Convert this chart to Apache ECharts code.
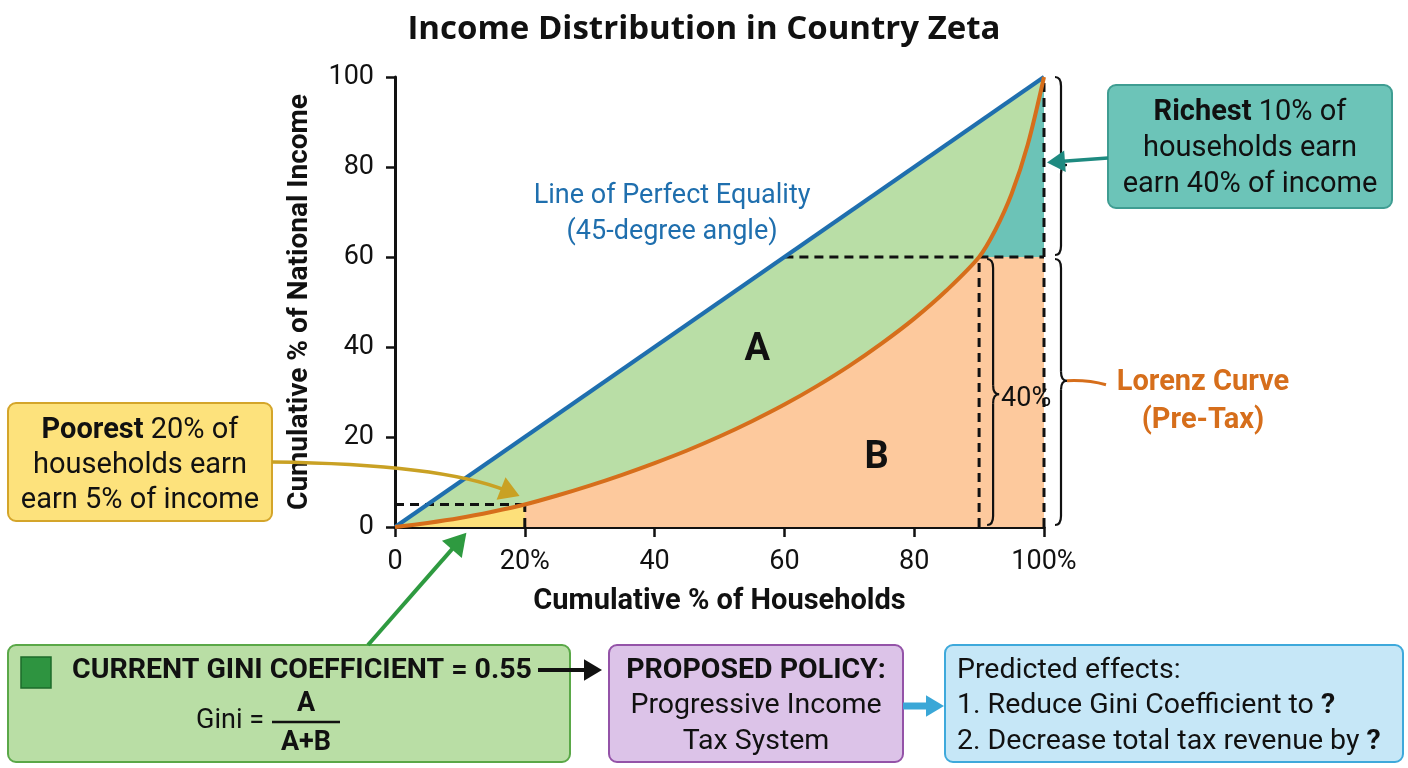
<!DOCTYPE html>
<html>
<head>
<meta charset="utf-8">
<title>Income Distribution in Country Zeta</title>
<script src="https://cdn.jsdelivr.net/npm/echarts@6/dist/echarts.min.js"></script>
<style>
  html, body { margin: 0; padding: 0; background: #fff; }
  #chart { width: 1408px; height: 768px; }
</style>
</head>
<body>
<div id="chart"></div>
<script>
// Lorenz curve: cumulative % of households -> cumulative % of income
const households = [0, 5, 10, 15, 20, 25, 30, 35, 40, 45, 50, 55, 60, 65, 70, 75, 80, 85, 90, 92.5, 95, 97.5, 100];
const lorenzIncome = [0, 0.9, 2, 3.4, 5, 7, 9.2, 11.6, 14.2, 17, 20.1, 23.5, 27.2, 31.3, 35.8, 40.8, 46.3, 52.6, 60, 66, 74, 85, 100];
const equalityHouseholds = [0, 100];
const equalityIncome = [0, 100];
const xTicks = [0, 20, 40, 60, 80, 100];
const xTickLabels = ['0', '20%', '40', '60', '80', '100%'];
const yTicks = [0, 5, 20, 40, 60, 80, 100];
const yTickLabels = ['0', '5%', '20', '40', '60', '80', '100'];
const poorest = [20, 5];       // poorest 20% earn 5%
const richestCut = [90, 60];   // richest 10% start at 90%, earn the last 40%
const giniValue = 0.55;

const colors = {
    equality: '#1f6fae',
    lorenz: '#d66e1b',
    areaA: '#b9dea6',
    areaB: '#fdc99d',
    richest: '#6cc3b7',
    poorest: '#fde07a',
    dash: '#111111'
};
const FONT = 'Roboto';
const SMOOTH = 0.3;

const chartDom = document.getElementById('chart');
const chart = echarts.init(chartDom);

const pts = (xs, ys) => xs.map((x, i) => [x, ys[i]]);
const lorenz = pts(households, lorenzIncome);
const lorenzLow = lorenz.filter(p => p[0] <= poorest[0]);
const lorenzTop = lorenz.filter(p => p[0] >= richestCut[0]);

function areaSeries(name, data, color, origin) {
    return {
        name, type: 'line', data, smooth: SMOOTH, symbol: 'none', silent: true,
        lineStyle: { width: 0 },
        areaStyle: { color, opacity: 1, origin: origin === undefined ? 'auto' : origin }
    };
}
function dashedSeries(data) {
    return {
        type: 'line', data, symbol: 'none', silent: true,
        lineStyle: { color: colors.dash, width: 3, type: [9, 6] }
    };
}

const axisText = { color: '#111', fontSize: 27, fontFamily: FONT };

chart.setOption({
    animation: false,
    backgroundColor: '#fff',
    title: {
        text: 'Income Distribution in Country Zeta',
        left: 'center',
        top: 8,
        textStyle: { fontFamily: 'Open Sans', fontWeight: 'bold', fontSize: 33, color: '#111' }
    },
    grid: { left: 395, right: 364, top: 77, bottom: 241, containLabel: false },
    xAxis: {
        type: 'value', min: 0, max: 100,
        name: 'Cumulative % of Households',
        nameLocation: 'middle', nameGap: 60,
        nameTextStyle: { color: '#111', fontSize: 29, fontWeight: 'bold', fontFamily: FONT },
        axisLine: { show: true, lineStyle: { color: '#111', width: 3 } },
        axisTick: { show: true, customValues: xTicks, length: 10, lineStyle: { color: '#111', width: 2.5 } },
        axisLabel: Object.assign({
            customValues: xTicks, margin: 22, showMinLabel: true, showMaxLabel: true,
            formatter: v => xTickLabels[xTicks.indexOf(v)]
        }, axisText),
        splitLine: { show: false }
    },
    yAxis: {
        type: 'value', min: 0, max: 100,
        name: 'Cumulative % of National Income',
        nameLocation: 'middle', nameGap: 81, nameRotate: 90,
        nameTextStyle: { color: '#111', fontSize: 28, fontWeight: 'bold', fontFamily: FONT },
        axisLine: { show: true, lineStyle: { color: '#111', width: 3 } },
        axisTick: { show: true, customValues: yTicks, length: 9, lineStyle: { color: '#111', width: 2.5 } },
        axisLabel: Object.assign({
            customValues: yTicks, margin: 21, showMinLabel: true, showMaxLabel: true,
            formatter: v => yTickLabels[yTicks.indexOf(v)]
        }, axisText),
        splitLine: { show: false }
    },
    series: [
        areaSeries('A', pts(equalityHouseholds, equalityIncome), colors.areaA),
        areaSeries('B', lorenz, colors.areaB),
        areaSeries('Richest 10%', lorenzTop, colors.richest, richestCut[1]),
        areaSeries('Poorest 20%', lorenzLow, colors.poorest),
        dashedSeries([[0, poorest[1]], poorest]),
        dashedSeries([[poorest[0], 0], poorest]),
        dashedSeries([[richestCut[1], richestCut[1]], [100, richestCut[1]]]),
        dashedSeries([[richestCut[0], 0], richestCut]),
        dashedSeries([[100, 0], [100, 100]]),
        {
            name: 'Line of Perfect Equality', type: 'line', symbol: 'none', silent: true,
            data: pts(equalityHouseholds, equalityIncome),
            lineStyle: { color: colors.equality, width: 4 }
        },
        {
            name: 'Lorenz Curve', type: 'line', symbol: 'none', silent: true,
            smooth: SMOOTH,
            data: lorenz,
            lineStyle: { color: colors.lorenz, width: 4 }
        }
    ]
});

// ---- annotations (boxes, braces, arrows) ----
const px = (x, y) => chart.convertToPixel({ gridIndex: 0 }, [x, y]);

function arrowHead(tip, from, size, color) {
    const a = Math.atan2(tip[1] - from[1], tip[0] - from[0]);
    const w = size * 0.6;
    const bx = tip[0] - size * Math.cos(a), by = tip[1] - size * Math.sin(a);
    return {
        type: 'polygon', z: 100,
        shape: { points: [tip, [bx + w * Math.sin(a), by - w * Math.cos(a)], [bx - w * Math.sin(a), by + w * Math.cos(a)]] },
        style: { fill: color }
    };
}
function arrow(p0, cp, p1, color, width, size) {
    cp = cp || [(p0[0] + p1[0]) / 2, (p0[1] + p1[1]) / 2];
    const a = Math.atan2(p1[1] - cp[1], p1[0] - cp[0]);
    const end = [p1[0] - size * 0.7 * Math.cos(a), p1[1] - size * 0.7 * Math.sin(a)];
    return [
        {
            type: 'bezierCurve', z: 100,
            shape: { x1: p0[0], y1: p0[1], cpx1: cp[0], cpy1: cp[1], x2: end[0], y2: end[1] },
            style: { stroke: color, lineWidth: width, fill: null }
        },
        arrowHead(p1, cp, size, color)
    ];
}
function curve(x1, y1, cx, cy, x2, y2, color, width) {
    return {
        type: 'bezierCurve', z: 100,
        shape: { x1, y1, cpx1: cx, cpy1: cy, x2, y2 },
        style: { stroke: color, lineWidth: width, fill: null }
    };
}
function seg(x1, y1, x2, y2, color, width) {
    return { type: 'line', z: 100, shape: { x1, y1, x2, y2 }, style: { stroke: color, lineWidth: width } };
}
// a "}" brace: ends curl to the left, tip points right
function brace(x, yTop, yBot, tipY, w) {
    const r = 9, c = '#111', lw = 2.2;
    return [
        curve(x, yTop, x + w, yTop, x + w, yTop + r, c, lw),
        seg(x + w, yTop + r, x + w, tipY - r, c, lw),
        curve(x + w, tipY - r, x + w, tipY, x + 2 * w, tipY, c, lw),
        curve(x + 2 * w, tipY, x + w, tipY, x + w, tipY + r, c, lw),
        seg(x + w, tipY + r, x + w, yBot - r, c, lw),
        curve(x + w, yBot - r, x + w, yBot, x, yBot, c, lw)
    ];
}
function box(x, y, w, h, fill, stroke) {
    return { type: 'rect', z: 90, shape: { x, y, width: w, height: h, r: 8 }, style: { fill, stroke, lineWidth: 2 } };
}
function text(x, y, str, opt) {
    opt = opt || {};
    const size = opt.size || 25;
    const lh = opt.lineHeight || size * 1.4;
    const color = opt.color || '#111';
    const base = { fontSize: size, fontFamily: FONT, fill: color, lineHeight: lh };
    return {
        type: 'text', z: 110, x, y,
        style: Object.assign({}, base, {
            text: str,
            fontWeight: opt.weight || 'normal',
            align: opt.align || 'center',
            verticalAlign: 'middle',
            rich: {
                n: Object.assign({}, base, { fontWeight: 'normal' }),
                b: Object.assign({}, base, { fontWeight: 'bold' })
            }
        })
    };
}

const p100 = px(100, 100), p60 = px(100, richestCut[1]), p0 = px(100, 0);
const p90 = px(richestCut[0], 0);
const eqLabel = px(42.7, 69.5);
const aPos = px(55.8, 39.3);
const bPos = px(74.2, 15.2);
const teal = px(100, 81);
const poorTip = px(19.2, 6.9);
const giniTip = px(11, -1.3);
const lorenzTipY = px(100, 32.5)[1];

const BOX_FONT = 28.5;

const graphics = [].concat(
    // labels in the plot
    text(eqLabel[0], eqLabel[1], 'Line of Perfect Equality\n(45-degree angle)', { size: 27, color: colors.equality, lineHeight: 36 }),
    text(aPos[0], aPos[1], 'A', { size: 38, weight: 'bold' }),
    text(bPos[0], bPos[1], 'B', { size: 38, weight: 'bold' }),
    // braces
    brace(p100[0] + 11, p100[1], p60[1] - 2, px(100, 80)[1] - 2, 6),
    brace(p60[0] + 11, p60[1] + 2, p0[1] - 2, lorenzTipY, 6),
    brace(p90[0] + 8, p60[1] + 2, p0[1] - 2, px(100, 29.5)[1], 6),
    text(p90[0] + 22, px(100, 28.5)[1], '40%', { size: 27, align: 'left' }),
    // Lorenz curve label
    curve(p60[0] + 23, lorenzTipY, 1088, lorenzTipY - 1, 1106, lorenzTipY + 4, colors.lorenz, 3),
    text(1203, 402, 'Lorenz Curve\n(Pre-Tax)', { size: 29, weight: 'bold', color: colors.lorenz, lineHeight: 38 }),
    // richest box
    box(1108, 85, 284, 123, '#6cc4b8', '#3f9d92'),
    text(1250, 149, '{b|Richest} 10% of\nhouseholds earn\nearn 40% of income', { size: 29, lineHeight: 36 }),
    arrow([1108, 158], null, [teal[0] + 3, teal[1]], '#1e8a80', 3.5, 18),
    // poorest box
    box(8, 403, 264, 118, '#fde27c', '#d4a52a'),
    text(140, 466, '{b|Poorest} 20% of\nhouseholds earn\nearn 5% of income', { size: 29, lineHeight: 35 }),
    arrow([272, 462], [440, 464], poorTip, '#c9a124', 3.5, 20),
    // current gini box
    box(8, 645, 562, 117, '#b9dea5', '#5aa848'),
    { type: 'rect', z: 95, shape: { x: 21, y: 657, width: 30, height: 31 }, style: { fill: '#2e9440', stroke: '#1d6b2a', lineWidth: 1.5 } },
    text(72, 671, 'CURRENT GINI COEFFICIENT = ' + giniValue.toFixed(2), { size: BOX_FONT, weight: 'bold', align: 'left' }),
    arrow([538, 670], null, [602, 670], '#111', 4, 18),
    text(230, 721, 'Gini =', { size: 27 }),
    text(306, 704, 'A', { size: 27, weight: 'bold' }),
    seg(272, 722, 340, 722, '#111', 2.5),
    text(306, 743, 'A+B', { size: 27, weight: 'bold' }),
    arrow([368, 645], null, giniTip, '#2e9a40', 4, 22),
    // proposed policy box
    box(609, 645, 294, 117, '#dcc3e8', '#9453a8'),
    text(756, 706, '{b|PROPOSED POLICY:}\nProgressive Income\nTax System', { size: BOX_FONT, lineHeight: 35.5 }),
    arrow([903, 706], null, [944, 706], '#3aa7d7', 7, 18),
    // predicted effects box
    box(945, 645, 458, 117, '#c6e7f7', '#3ea9db'),
    text(957, 706, 'Predicted effects:\n1. Reduce Gini Coefficient to {b|?}\n2. Decrease total tax revenue by {b|?}', { size: BOX_FONT, align: 'left', lineHeight: 35.5 })
);

chart.setOption({ graphic: { elements: graphics } });
window.addEventListener('resize', () => chart.resize());
</script>
</body>
</html>
